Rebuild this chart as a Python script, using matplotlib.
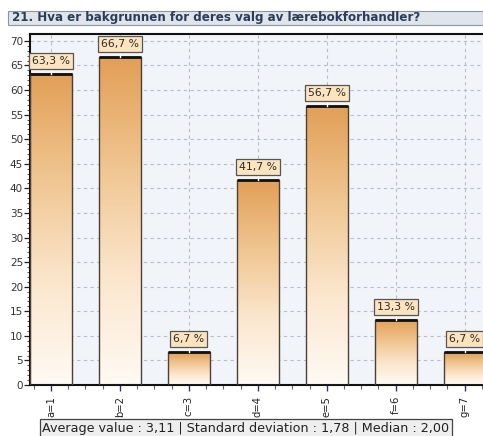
import numpy as np
import matplotlib
matplotlib.use("Agg")
import matplotlib.pyplot as plt
from matplotlib.colors import LinearSegmentedColormap
from matplotlib.patches import Rectangle

categories = ["a=1", "b=2", "c=3", "d=4", "e=5", "f=6", "g=7"]
values = [63.3, 66.7, 6.7, 41.7, 56.7, 13.3, 6.7]
value_labels = ["63,3 %", "66,7 %", "6,7 %", "41,7 %", "56,7 %", "13,3 %", "6,7 %"]
title = "21. Hva er bakgrunnen for deres valg av lærebokforhandler?"
stats = "Average value : 3,11 | Standard deviation : 1,78 | Median : 2,00"
yticks = list(range(0, 75, 5))

W, H = 483, 436
fig = plt.figure(figsize=(W / 100, H / 100), dpi=100)
fig.patch.set_facecolor("white")

ax_left, ax_right, ax_top, ax_bottom = 30, 506, 34, 385
ax = fig.add_axes([ax_left / W, 1 - ax_bottom / H, (ax_right - ax_left) / W, (ax_bottom - ax_top) / H])
ax.set_facecolor("#f1f5f9")

bw = 0.61
x = np.arange(len(categories))
ax.set_xlim(-bw / 2, 6.6)
ax.set_ylim(0, 71.4)

ax.set_yticks(yticks)
ax.set_yticks(np.arange(0, 71, 1), minor=True)
ax.set_xticks(x)
ax.set_xticks(np.arange(-0.25, 6.6, 0.25), minor=True)
ax.grid(True, which="major", color="#b8bec6", linestyle=(0, (3, 3)), linewidth=0.8)
ax.set_axisbelow(True)

cmap = LinearSegmentedColormap.from_list("bar", ["#fffaf4", "#fbe6cc", "#f0c590", "#e29f57"])
grad = np.linspace(0, 1, 256).reshape(-1, 1)

bars = ax.bar(x, values, width=bw, color="none", edgecolor="#4a4038", linewidth=1.0, zorder=3)
for b, v, lab in zip(bars, values, value_labels):
    x0 = b.get_x()
    x1 = x0 + b.get_width()
    ax.imshow(grad, extent=[x0, x1, 0, v], origin="lower", cmap=cmap,
              aspect="auto", zorder=2, interpolation="bilinear")
    ax.plot([x0, x1], [v, v], color="#111111", linewidth=2.0, zorder=4, solid_capstyle="butt")
    xc = x0 + b.get_width() / 2
    ax.plot([xc, xc], [v, v + 1.0], color="white", linewidth=1.0, zorder=5)
    ax.text(xc, v + 1.6, lab, ha="center", va="bottom", fontsize=7.8, color="#2a2a2a",
            zorder=6,
            bbox=dict(boxstyle="square,pad=0.28", facecolor="#fde4bf", edgecolor="#555555", linewidth=0.9))

ax.set_xticklabels(categories, rotation=90, fontsize=7.2, color="#222222")
ax.tick_params(axis="x", which="major", length=4, color="#3a2f80", width=1.0, pad=4)
ax.tick_params(axis="x", which="minor", length=3, color="#666666", width=0.8)
ax.tick_params(axis="y", which="major", length=4, color="#222222", width=0.9, labelsize=7.5,
               labelcolor="#333333", pad=1)
ax.tick_params(axis="y", which="minor", length=2, color="#333333", width=0.6)

for side in ["left", "top", "bottom"]:
    ax.spines[side].set_color("#111111")
    ax.spines[side].set_linewidth(1.5)
ax.spines["right"].set_visible(False)

tb = Rectangle((8 / W, 1 - 25 / H), (W - 8) / W, 14 / H, transform=fig.transFigure,
               facecolor="#dfe5eb", edgecolor="#8a96a4", linewidth=0.8)
fig.patches.append(tb)
fig.text(12 / W, 1 - 18 / H, title, fontsize=8.6, fontweight="bold", color="#2b3d58",
         va="center", ha="left")

fig.text(246 / W, 1 - 428 / H, stats, fontsize=9.2, color="#222222", ha="center", va="center",
         bbox=dict(boxstyle="square,pad=0.22", facecolor="#eeeeee", edgecolor="#444444", linewidth=0.9))

fig.savefig("out.png", dpi=100)
